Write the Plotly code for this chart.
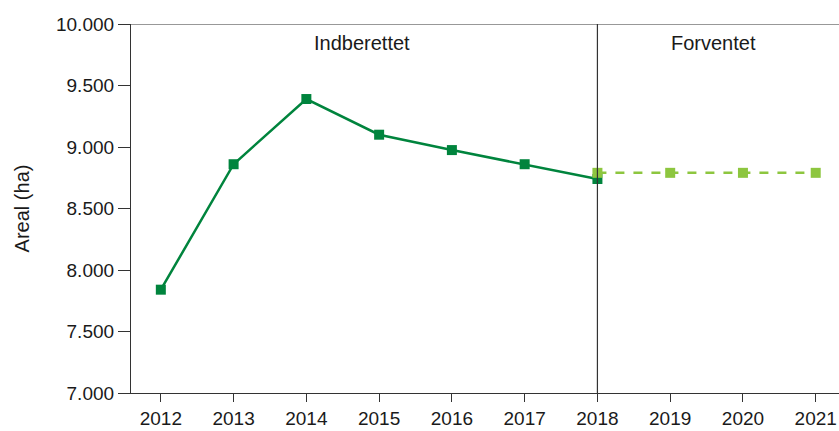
import plotly.graph_objects as go

years_rep = [2012, 2013, 2014, 2015, 2016, 2017, 2018]
area_rep = [7840, 8860, 9390, 9100, 8975, 8860, 8740]
years_fc = [2018, 2019, 2020, 2021]
area_fc = [8790, 8790, 8790, 8790]
tick_years = [2012, 2013, 2014, 2015, 2016, 2017, 2018, 2019, 2020, 2021]
y_ticks = [7000, 7500, 8000, 8500, 9000, 9500, 10000]

dark = "#00843D"
light = "#8DC63F"

fig = go.Figure()
fig.add_trace(go.Scatter(x=years_rep, y=area_rep, mode="lines+markers",
                         line=dict(color=dark, width=2.5),
                         marker=dict(symbol="square", size=10, color=dark),
                         showlegend=False))
fig.add_trace(go.Scatter(x=years_fc, y=area_fc, mode="lines+markers",
                         line=dict(color=light, width=2.5, dash="dash"),
                         marker=dict(symbol="square", size=10, color=light),
                         showlegend=False))

fig.add_shape(type="line", xref="x", yref="paper", x0=2018, x1=2018, y0=0, y1=1,
              line=dict(color="#333333", width=1.2))
fig.add_shape(type="line", xref="paper", yref="y", x0=0, x1=1, y0=10000, y1=10000,
              line=dict(color="#333333", width=1.2))

fig.add_annotation(x=2014.77, y=9845, text="Indberettet", showarrow=False,
                   font=dict(size=20, color="#1a1a1a"))
fig.add_annotation(x=2019.6, y=9845, text="Forventet", showarrow=False,
                   font=dict(size=20, color="#1a1a1a"))

fig.update_layout(
    width=839, height=431,
    margin=dict(l=131, r=0, t=24, b=38),
    paper_bgcolor="white", plot_bgcolor="white",
    separators=",.",
    font=dict(family="Liberation Sans, Arial, sans-serif", size=19, color="#1a1a1a"),
)
fig.update_xaxes(range=[2011.59, 2021.32], tickvals=tick_years,
                 ticks="outside", ticklen=8, tickcolor="#333333",
                 showline=True, linecolor="#333333", linewidth=1.2,
                 showgrid=False, zeroline=False, tickfont=dict(size=19))
fig.update_yaxes(range=[7000, 10000], tickvals=y_ticks, tickformat=",",
                 ticks="outside", ticklen=12, tickcolor="#333333",
                 showline=True, linecolor="#333333", linewidth=1.2,
                 showgrid=False, zeroline=False, tickfont=dict(size=19),
                 title=dict(text="Areal (ha)", font=dict(size=20), standoff=20))

fig.write_html("out.html", config={"displayModeBar": False},
               post_script="document.body.style.margin='0';document.body.style.overflow='hidden';")
